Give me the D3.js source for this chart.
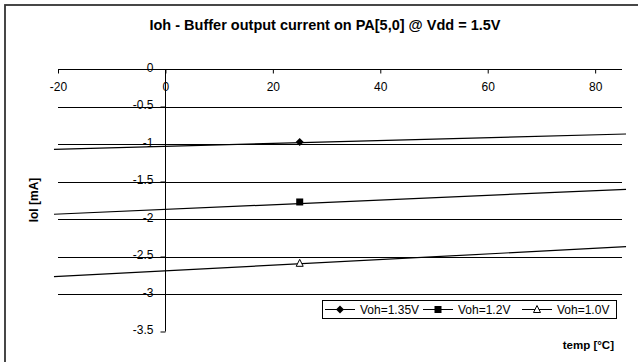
<!DOCTYPE html>
<html>
<head>
<meta charset="utf-8">
<script src="https://cdn.jsdelivr.net/npm/d3@7"></script>
<style>
  html, body { margin: 0; padding: 0; background: #fff; }
  svg { display: block; font-family: "Liberation Sans", Arial, sans-serif; }
</style>
</head>
<body>
<svg id="chart" width="638" height="362"></svg>
<script>
// ---- data ----
const seriesNames = ["Voh=1.35V", "Voh=1.2V", "Voh=1.0V"];
const markerTemp = [25, 25, 25];
const markerValues = [-0.973, -1.773, -2.591];
// linear trendline endpoints (temperature, current)
const trendTemps = [-20.75, 85.75];
const trend135 = [-1.071, -0.867];
const trend12 = [-1.937, -1.604];
const trend10 = [-2.769, -2.369];
const xTicks = [-20, 0, 20, 40, 60, 80];
const yTicks = [0, -0.5, -1, -1.5, -2, -2.5, -3, -3.5];
const markerShapes = ["diamond", "square", "triangle"];

const trends = [trend135, trend12, trend10];

const svg = d3.select("#chart");
const FONT = "Liberation Sans, Arial, sans-serif";

// outer frame (cropped at right and bottom)
svg.append("rect")
  .attr("x", 5).attr("y", 5).attr("width", 640).attr("height", 370)
  .attr("fill", "#fff").attr("stroke", "#333").attr("stroke-width", 1.8);

const x = d3.scaleLinear().domain([-20, 85]).range([58, 622]);
const y = d3.scaleLinear().domain([-3.5, 0]).range([331.5, 69]);

// gridlines
svg.append("g").selectAll("line").data(yTicks.filter(d => d !== 0 && d !== -3.5)).join("line")
  .attr("x1", x(-20)).attr("x2", x(85))
  .attr("y1", d => Math.round(y(d)) + 0.5).attr("y2", d => Math.round(y(d)) + 0.5)
  .attr("stroke", "#000").attr("stroke-width", 1);

// x axis at y=0
const xAxis = d3.axisBottom(x).tickValues(xTicks).tickSize(4).tickPadding(9)
  .tickFormat(d => String(d));
const gx = svg.append("g").attr("transform", `translate(0,${Math.round(y(0)) + 0.5})`).call(xAxis);
gx.select(".domain").attr("d", `M${x(-20)},0H${x(85)}`).attr("stroke", "#000");
gx.selectAll(".tick line").attr("stroke", "#000");
gx.selectAll("text").attr("font-size", 12).attr("fill", "#000").attr("font-family", FONT);

// y axis at x=0
const yAxis = d3.axisLeft(y).tickValues(yTicks).tickSize(5).tickPadding(7)
  .tickFormat(d => String(d));
const gy = svg.append("g").attr("transform", `translate(${Math.round(x(0)) + 0.5},0)`).call(yAxis);
gy.select(".domain").attr("d", `M0,${y(0)}V${y(-3.5)}`).attr("stroke", "#000");
gy.selectAll(".tick line").attr("stroke", "#000");
gy.selectAll("text").attr("font-size", 12).attr("fill", "#000").attr("dy", "0.2em")
  .attr("font-family", FONT);

// trend lines
const line = d3.line().x(d => x(d[0])).y(d => y(d[1]));
trends.forEach(t => {
  svg.append("path")
    .attr("d", line(trendTemps.map((tt, i) => [tt, t[i]])))
    .attr("fill", "none").attr("stroke", "#000").attr("stroke-width", 1.2);
});

// marker drawing
function drawMarker(g, shape, cx, cy) {
  if (shape === "diamond") {
    g.append("path").attr("d", `M${cx},${cy - 4}L${cx + 4},${cy}L${cx},${cy + 4}L${cx - 4},${cy}Z`)
      .attr("fill", "#000");
  } else if (shape === "square") {
    g.append("rect").attr("x", cx - 3.5).attr("y", cy - 3.5).attr("width", 7).attr("height", 7)
      .attr("fill", "#000");
  } else {
    g.append("path").attr("d", `M${cx},${cy - 4}L${cx + 3.5},${cy + 3}L${cx - 3.5},${cy + 3}Z`)
      .attr("fill", "#fff").attr("stroke", "#000").attr("stroke-width", 1);
  }
}
const mg = svg.append("g");
markerValues.forEach((v, i) => drawMarker(mg, markerShapes[i], x(markerTemp[i]), y(v)));

// title
svg.append("text").attr("x", 325).attr("y", 30).attr("text-anchor", "middle")
  .attr("font-size", 14.5).attr("font-weight", "bold")
  .text("Ioh - Buffer output current on PA[5,0] @ Vdd = 1.5V");

// axis titles
svg.append("text").attr("transform", "translate(38,200) rotate(-90)")
  .attr("text-anchor", "middle").attr("font-size", 12).attr("font-weight", "bold")
  .text("Iol [mA]");
svg.append("text").attr("x", 614).attr("y", 349).attr("text-anchor", "end")
  .attr("font-size", 11.5).attr("font-weight", "bold").text("temp [°C]");

// legend
const lg = svg.append("g");
lg.append("rect").attr("x", 322.5).attr("y", 300.5).attr("width", 294).attr("height", 18)
  .attr("fill", "#fff").attr("stroke", "#000").attr("stroke-width", 1);
const legendX = [325, 423, 522];
seriesNames.forEach((name, i) => {
  const lx = legendX[i], ly = 309.5;
  lg.append("line").attr("x1", lx).attr("x2", lx + 30).attr("y1", ly).attr("y2", ly)
    .attr("stroke", "#000").attr("stroke-width", 1);
  drawMarker(lg, markerShapes[i], lx + 15, ly);
  lg.append("text").attr("x", lx + 35).attr("y", ly + 4.5).attr("font-size", 12)
    .attr("font-family", FONT).text(name);
});
</script>
</body>
</html>
